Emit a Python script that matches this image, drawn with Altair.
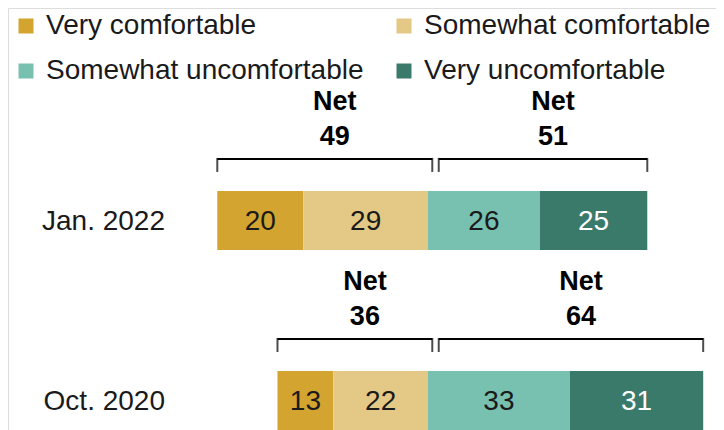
import altair as alt
import pandas as pd

periods = ["Jan. 2022", "Oct. 2020"]
responses = ["Very comfortable", "Somewhat comfortable", "Somewhat uncomfortable", "Very uncomfortable"]
very_comfortable = [20, 13]
somewhat_comfortable = [29, 22]
somewhat_uncomfortable = [26, 33]
very_uncomfortable = [25, 31]
net_comfortable = [49, 36]
net_uncomfortable = [51, 64]
colors = ["#D3A42F", "#E3C985", "#78C0B0", "#3A7A6B"]

rows = []
for i, p in enumerate(periods):
    vc, sc = very_comfortable[i], somewhat_comfortable[i]
    su, vu = somewhat_uncomfortable[i], very_uncomfortable[i]
    segs = [
        (responses[0], vc, -(vc + sc), -sc),
        (responses[1], sc, -sc, 0),
        (responses[2], su, 0, su),
        (responses[3], vu, su, su + vu),
    ]
    for r, v, s, e in segs:
        rows.append(dict(period=p, response=r, value=v, start=s, end=e, mid=(s + e) / 2))
bars_df = pd.DataFrame(rows)

GAP_L, GAP_R = 1.0, 2.5
nets = []
for i, p in enumerate(periods):
    left = -(very_comfortable[i] + somewhat_comfortable[i])
    right = somewhat_uncomfortable[i] + very_uncomfortable[i]
    nets.append(dict(period=p, net=net_comfortable[i], lo=left, hi=GAP_L))
    nets.append(dict(period=p, net=net_uncomfortable[i], lo=GAP_R, hi=right))
nets_df = pd.DataFrame(nets)
nets_df["mid"] = (nets_df["lo"] + nets_df["hi"]) / 2

labels_df = pd.DataFrame({"period": periods})

NOAXIS = alt.Axis(domain=False, ticks=False, labels=False, grid=False, title="",
                  domainOpacity=0, tickOpacity=0, gridOpacity=0, domainColor="transparent")
xscale = alt.Scale(domain=[-97.67, 66.98], nice=False, zero=False)
Y = alt.Y("period:N", sort=periods, axis=NOAXIS,
          scale=alt.Scale(paddingInner=0.672, paddingOuter=0.508, align=1))
FONT = "Liberation Sans"
INK = "#1a1a1a"

legend_order = [responses[0], responses[2], responses[1], responses[3]]

bars = alt.Chart(bars_df).mark_bar().encode(
    x=alt.X("start:Q", scale=xscale, axis=NOAXIS),
    x2="end:Q",
    y=Y,
    color=alt.Color(
        "response:N",
        scale=alt.Scale(domain=responses, range=colors),
        legend=alt.Legend(
            title="", orient="none", legendX=4, legendY=4, columns=2,
            values=legend_order,
            symbolType="square", symbolSize=225, symbolStrokeWidth=0,
            labelFontSize=28, labelFont=FONT, labelColor=INK, labelLimit=0,
            columnPadding=26, rowPadding=17, labelOffset=6, padding=0,
        ),
    ),
)

bar_text = alt.Chart(bars_df).mark_text(fontSize=28, font=FONT, baseline="alphabetic", dy=10).encode(
    x=alt.X("mid:Q", scale=xscale, axis=NOAXIS),
    y=Y,
    text="value:Q",
    color=alt.condition(alt.datum.response == "Very uncomfortable", alt.value("white"), alt.value(INK)),
)

period_text = alt.Chart(labels_df).mark_text(
    fontSize=28, font=FONT, align="right", baseline="alphabetic", dy=10, color=INK
).encode(x=alt.value(157), y=Y, text="period:N")

bracket_h = alt.Chart(nets_df).mark_rule(strokeWidth=2, color="black", yOffset=-61.5).encode(
    x=alt.X("lo:Q", scale=xscale, axis=NOAXIS), x2="hi:Q", y=Y
)

bracket_v = alt.Chart(nets_df).transform_fold(["lo", "hi"], as_=["edge", "ex"]).mark_tick(
    color="black", thickness=2, size=14, yOffset=-55.5, orient="vertical"
).encode(x=alt.X("ex:Q", scale=xscale, axis=NOAXIS), y=Y)

net_word = alt.Chart(nets_df).mark_text(
    fontSize=27, font=FONT, fontWeight="bold", baseline="alphabetic", dy=-110, dx=10, color="black"
).encode(x=alt.X("mid:Q", scale=xscale, axis=NOAXIS), y=Y, text=alt.value("Net"))

net_num = alt.Chart(nets_df).mark_text(
    fontSize=27, font=FONT, fontWeight="bold", baseline="alphabetic", dy=-75.5, dx=10, color="black"
).encode(x=alt.X("mid:Q", scale=xscale, axis=NOAXIS), y=Y, text="net:Q")

chart = alt.layer(bars, bar_text, period_text, bracket_h, bracket_v, net_word, net_num).properties(
    width=708, height=422, padding=0, autosize=alt.AutoSizeParams(type="none")
).configure_view(strokeWidth=0, stroke="transparent").configure_axis(
    domain=False, ticks=False, labels=False, grid=False, domainOpacity=0
).configure(font=FONT)

chart.save("out.html", embed_options={"renderer": "svg", "actions": False})
